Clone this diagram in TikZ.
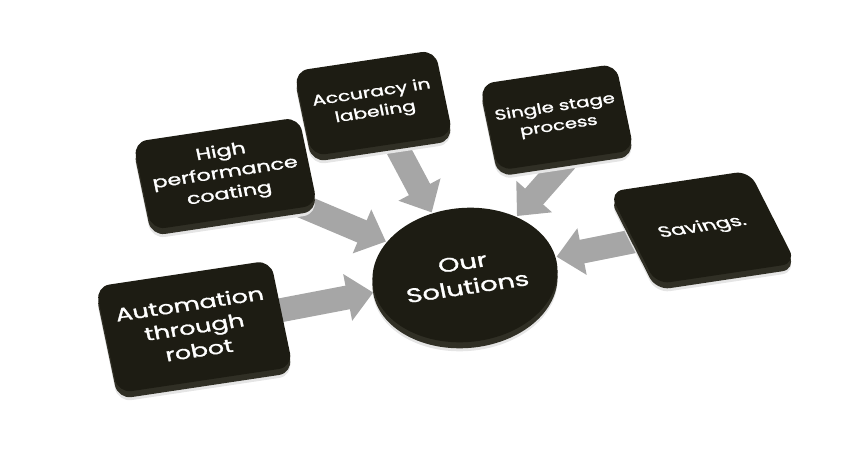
\documentclass[tikz,border=0pt]{standalone}
\usepackage{fontspec}
\setmainfont{Poppins}[AutoFakeBold=1.2]
\usetikzlibrary{arrows.meta,shadows,backgrounds}
\definecolor{tiletop}{RGB}{29,28,19}
\definecolor{tileside}{RGB}{48,47,37}
\definecolor{flowgray}{RGB}{166,166,166}
\tikzset{
	tile/.style={fill=tiletop, rounded corners=14pt, text=white, align=center, inner sep=0pt, transform shape,
		general shadow={shadow yshift=-9pt, fill=black!10},
		general shadow={shadow yshift=-6pt, fill=tileside}},
	hub/.style={circle, fill=tiletop, text=white, align=center, minimum size=183pt, inner sep=0pt, transform shape,
		general shadow={shadow yshift=-9pt, fill=black!10},
		general shadow={shadow yshift=-6pt, fill=tileside}},
	flow/.style={draw=flowgray, line width=24pt, -{Triangle[width=46pt,length=26pt]}, shorten >=1pt}
}
\begin{document}
\begin{tikzpicture}[x=1pt, y=1pt]
	\useasboundingbox (0,0) rectangle (865,461);
	\begin{scope}[cm={1,0.15,-0.15,0.72,(465,186)}]
		\node[hub, font=\fontsize{27}{34}\selectfont\bfseries] (sol) at (0,0) {Our\\Solutions};
		\node[tile, minimum width=175pt, minimum height=148pt, font=\fontsize{25}{32}\selectfont\bfseries] (robot) at (-273,-15) {Automation\\through\\robot};
		\node[tile, minimum width=166pt, minimum height=122pt, font=\fontsize{22}{29}\selectfont\bfseries] (coat) at (-212,185) {High\\performance\\coating};
		\node[tile, minimum width=141pt, minimum height=118pt, font=\fontsize{20}{27}\selectfont\bfseries] (label) at (-54,250) {Accuracy in\\labeling};
		\node[tile, minimum width=136pt, minimum height=120pt, font=\fontsize{19.5}{26}\selectfont\bfseries] (stage) at (121,194) {Single stage\\process};
		\node[tile, xslant=-0.2, minimum width=140pt, minimum height=134pt, font=\fontsize{21}{28}\selectfont\bfseries] (save) at (240,16) {Savings.};
		\begin{scope}[on background layer]
			\draw[flow] (robot.center) -- (sol);
			\draw[flow] (coat.center) -- (sol);
			\draw[flow] (label.center) -- (sol);
			\draw[flow] (stage.south) -- (sol);
			\draw[flow] (save.center) -- (sol);
		\end{scope}
	\end{scope}
\end{tikzpicture}
\end{document}
